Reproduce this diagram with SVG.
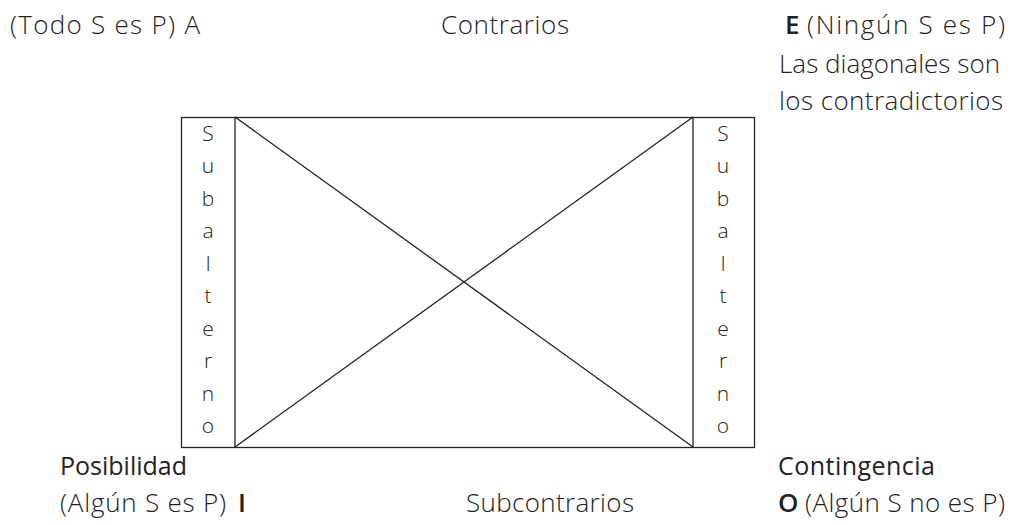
<svg xmlns="http://www.w3.org/2000/svg" width="1025" height="525" viewBox="0 0 1025 525">
<style>
text{font-family:"Open Sans",Lato,"Liberation Sans",sans-serif;font-weight:300;font-size:26px;fill:#222}
.b{font-weight:600}
.m{font-weight:500;font-size:25px}
.col text{font-size:21px;text-anchor:middle}
.ln{stroke:#222;stroke-width:1.3;fill:none}
</style>
<rect width="1025" height="525" fill="#fff"/>
<g id="connectors">
<line class="ln" x1="235" y1="117" x2="693" y2="447"/>
<line class="ln" x1="235" y1="447" x2="693" y2="117"/>
</g>
<g id="square">
<rect class="ln" x="181.5" y="117.5" width="573" height="330"/>
<line class="ln" x1="235" y1="117" x2="235" y2="447"/>
<line class="ln" x1="693" y1="117" x2="693" y2="447"/>
</g>
<g id="subalterno-left" class="col">
<text x="208" y="141">S</text><text x="208" y="173">u</text><text x="208" y="206">b</text><text x="208" y="238">a</text><text x="208" y="271">l</text><text x="208" y="303">t</text><text x="208" y="336">e</text><text x="208" y="368">r</text><text x="208" y="401">n</text><text x="208" y="433">o</text>
</g>
<g id="subalterno-right" class="col">
<text x="723" y="141">S</text><text x="723" y="173">u</text><text x="723" y="206">b</text><text x="723" y="238">a</text><text x="723" y="271">l</text><text x="723" y="303">t</text><text x="723" y="336">e</text><text x="723" y="368">r</text><text x="723" y="401">n</text><text x="723" y="433">o</text>
</g>
<g id="A"><text x="10" y="34" textLength="190" lengthAdjust="spacing">(Todo S es P) A</text></g>
<g id="contrarios"><text x="441" y="34" textLength="128" lengthAdjust="spacing">Contrarios</text></g>
<g id="E"><text x="785" y="34" class="b">E</text><text x="807" y="34" textLength="198" lengthAdjust="spacing">(Ningún S es P)</text>
<text x="779" y="73" textLength="221" lengthAdjust="spacing">Las diagonales son</text>
<text x="779" y="110" textLength="224" lengthAdjust="spacing">los contradictorios</text></g>
<g id="I"><text class="m" x="60" y="475" textLength="127" lengthAdjust="spacing">Posibilidad</text>
<text x="60" y="512" textLength="166" lengthAdjust="spacing">(Algún S es P)</text><text class="b" x="238" y="512">I</text></g>
<g id="subcontrarios"><text x="466" y="512" textLength="168" lengthAdjust="spacing">Subcontrarios</text></g>
<g id="O"><text class="m" x="778" y="475" textLength="157" lengthAdjust="spacing">Contingencia</text>
<text class="b" x="778" y="512">O</text><text x="805" y="512" textLength="200" lengthAdjust="spacing">(Algún S no es P)</text></g>
</svg>
